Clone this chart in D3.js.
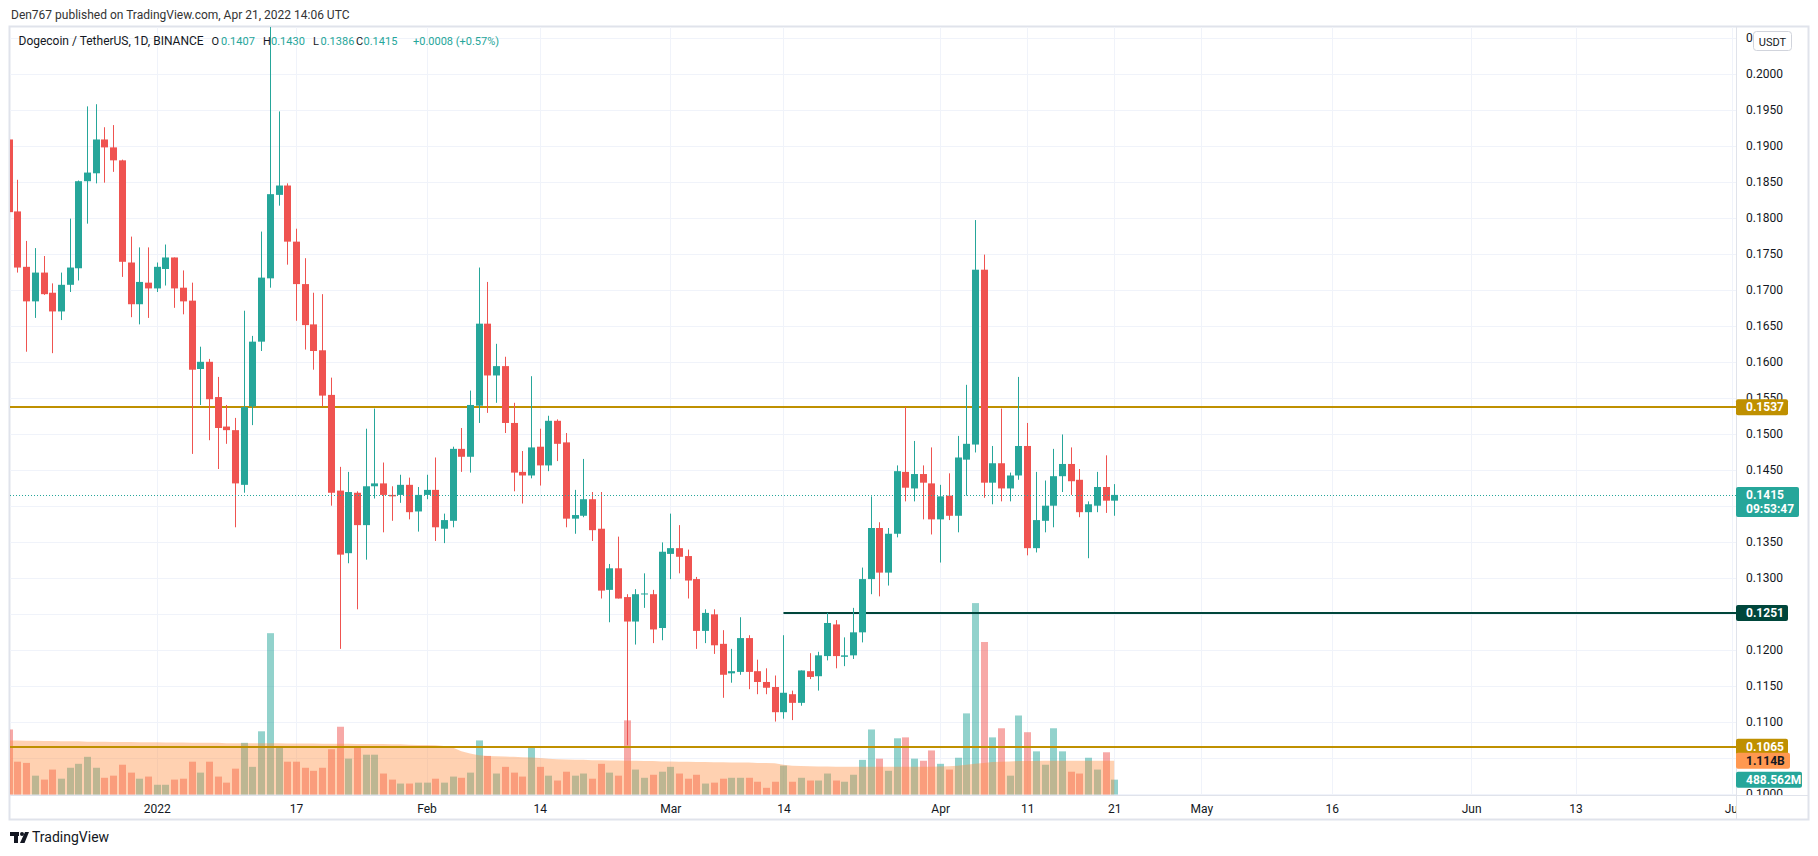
<!DOCTYPE html>
<html><head><meta charset="utf-8">
<script src="https://cdn.jsdelivr.net/npm/d3@7"></script>
<style>
html,body{margin:0;padding:0;background:#fff;}
svg{display:block;font-family:Roboto,"Liberation Sans",Arial,sans-serif;}
</style></head><body>
<svg id="chart" width="1818" height="856"></svg>
<script>
// ---------------- DATA ----------------
const dates = [
"2021-12-15","2021-12-16","2021-12-17","2021-12-18","2021-12-19","2021-12-20","2021-12-21","2021-12-22","2021-12-23","2021-12-24","2021-12-25","2021-12-26","2021-12-27","2021-12-28","2021-12-29","2021-12-30","2021-12-31",
"2022-01-01","2022-01-02","2022-01-03","2022-01-04","2022-01-05","2022-01-06","2022-01-07","2022-01-08","2022-01-09","2022-01-10","2022-01-11","2022-01-12","2022-01-13","2022-01-14","2022-01-15","2022-01-16","2022-01-17","2022-01-18","2022-01-19","2022-01-20","2022-01-21","2022-01-22","2022-01-23","2022-01-24","2022-01-25","2022-01-26","2022-01-27","2022-01-28","2022-01-29","2022-01-30","2022-01-31",
"2022-02-01","2022-02-02","2022-02-03","2022-02-04","2022-02-05","2022-02-06","2022-02-07","2022-02-08","2022-02-09","2022-02-10","2022-02-11","2022-02-12","2022-02-13","2022-02-14","2022-02-15","2022-02-16","2022-02-17","2022-02-18","2022-02-19","2022-02-20","2022-02-21","2022-02-22","2022-02-23","2022-02-24","2022-02-25","2022-02-26","2022-02-27","2022-02-28",
"2022-03-01","2022-03-02","2022-03-03","2022-03-04","2022-03-05","2022-03-06","2022-03-07","2022-03-08","2022-03-09","2022-03-10","2022-03-11","2022-03-12","2022-03-13","2022-03-14","2022-03-15","2022-03-16","2022-03-17","2022-03-18","2022-03-19","2022-03-20","2022-03-21","2022-03-22","2022-03-23","2022-03-24","2022-03-25","2022-03-26","2022-03-27","2022-03-28","2022-03-29","2022-03-30","2022-03-31",
"2022-04-01","2022-04-02","2022-04-03","2022-04-04","2022-04-05","2022-04-06","2022-04-07","2022-04-08","2022-04-09","2022-04-10","2022-04-11","2022-04-12","2022-04-13","2022-04-14","2022-04-15","2022-04-16","2022-04-17","2022-04-18","2022-04-19","2022-04-20","2022-04-21"];

const open = [
0.1909,0.1809,0.1732,0.1684,0.1724,0.1696,0.1670,0.1707,0.1730,0.1851,0.1862,0.1909,0.1898,0.1880,0.1738,0.1680,0.1710,
0.1702,0.1729,0.1745,0.1703,0.1685,0.1590,0.1600,0.1551,0.1510,0.1505,0.1429,0.1538,0.1628,0.1716,0.1832,0.1845,0.1767,0.1708,0.1652,0.1616,0.1554,0.1421,0.1334,0.1418,0.1373,0.1427,0.1431,0.1415,0.1415,0.1429,0.1392,
0.1415,0.1422,0.1368,0.1379,0.1479,0.1468,0.1539,0.1653,0.1581,0.1594,0.1515,0.1447,0.1442,0.1482,0.1456,0.1518,0.1488,0.1382,0.1386,0.1409,0.1368,0.1283,0.1313,0.1273,0.1239,0.1277,0.1277,0.1230,
0.1333,0.1341,0.1330,0.1298,0.1226,0.1249,0.1208,0.1167,0.1169,0.1216,0.1170,0.1155,0.1148,0.1113,0.1138,0.1126,0.1170,0.1163,0.1191,0.1235,0.1190,0.1192,0.1224,0.1298,0.1369,0.1307,0.1361,0.1447,0.1424,0.1444,0.1431,
0.1381,0.1414,0.1386,0.1464,0.1485,0.1728,0.1432,0.1459,0.1424,0.1442,0.1483,0.1341,0.1379,0.1400,0.1441,0.1458,0.1436,0.1391,0.1400,0.1426,0.1407];

const high = [
0.1912,0.1853,0.1768,0.1758,0.1747,0.1709,0.1724,0.1799,0.1852,0.1955,0.1958,0.1926,0.1929,0.1881,0.1774,0.1759,0.1759,
0.1738,0.1763,0.1745,0.1727,0.1710,0.1621,0.1604,0.1579,0.1540,0.1522,0.1671,0.1636,0.1781,0.2288,0.1948,0.1848,0.1785,0.1744,0.1696,0.1694,0.1578,0.1454,0.1447,0.1420,0.1507,0.1535,0.1460,0.1427,0.1443,0.1439,0.1426,
0.1443,0.1467,0.1389,0.1482,0.1508,0.1560,0.1731,0.1711,0.1625,0.1607,0.1543,0.1476,0.1580,0.1507,0.1525,0.1520,0.1501,0.1422,0.1465,0.1419,0.1419,0.1319,0.1357,0.1277,0.1284,0.1306,0.1283,0.1349,
0.1389,0.1373,0.1339,0.1301,0.1256,0.1256,0.1227,0.1201,0.1245,0.1220,0.1186,0.1174,0.1164,0.1220,0.1143,0.1171,0.1195,0.1197,0.1251,0.1241,0.1217,0.1258,0.1314,0.1413,0.1377,0.1369,0.1456,0.1537,0.1490,0.1456,0.1481,
0.1429,0.1445,0.1497,0.1568,0.1797,0.1749,0.1483,0.1535,0.1446,0.1579,0.1515,0.1447,0.1435,0.1479,0.1499,0.1481,0.1451,0.1406,0.1447,0.1470,0.1430];

const low = [
0.1805,0.1724,0.1614,0.1661,0.1693,0.1612,0.1658,0.1697,0.1713,0.1792,0.1848,0.1849,0.1864,0.1718,0.1662,0.1652,0.1661,
0.1697,0.1706,0.1675,0.1666,0.1472,0.1540,0.1491,0.1451,0.1486,0.1370,0.1418,0.1512,0.1615,0.1703,0.1817,0.1735,0.1657,0.1617,0.1589,0.1538,0.1400,0.1201,0.1320,0.1256,0.1325,0.1410,0.1363,0.1379,0.1404,0.1381,0.1364,
0.1409,0.1351,0.1348,0.1370,0.1447,0.1446,0.1515,0.1529,0.1543,0.1501,0.1420,0.1403,0.1438,0.1428,0.1448,0.1462,0.1370,0.1361,0.1384,0.1351,0.1271,0.1238,0.1271,0.1067,0.1207,0.1258,0.1209,0.1213,
0.1298,0.1306,0.1271,0.1201,0.1209,0.1194,0.1133,0.1154,0.1165,0.1145,0.1138,0.1138,0.1100,0.1104,0.1102,0.1122,0.1159,0.1143,0.1185,0.1174,0.1177,0.1187,0.1210,0.1277,0.1274,0.1289,0.1356,0.1406,0.1406,0.1381,0.1360,
0.1321,0.1380,0.1363,0.1414,0.1474,0.1411,0.1402,0.1406,0.1406,0.1436,0.1331,0.1335,0.1363,0.1370,0.1419,0.1415,0.1384,0.1327,0.1391,0.1390,0.1386];

const close = [
0.1808,0.1731,0.1684,0.1724,0.1694,0.1670,0.1707,0.1731,0.1851,0.1863,0.1909,0.1898,0.1880,0.1739,0.1680,0.1711,0.1702,
0.1732,0.1745,0.1702,0.1684,0.1589,0.1600,0.1548,0.1508,0.1505,0.1431,0.1537,0.1628,0.1717,0.1833,0.1845,0.1767,0.1708,0.1651,0.1615,0.1553,0.1418,0.1332,0.1419,0.1373,0.1427,0.1431,0.1415,0.1413,0.1429,0.1391,0.1415,
0.1422,0.1370,0.1380,0.1479,0.1468,0.1540,0.1653,0.1581,0.1594,0.1515,0.1446,0.1442,0.1481,0.1456,0.1518,0.1486,0.1382,0.1387,0.1409,0.1366,0.1282,0.1313,0.1271,0.1239,0.1277,0.1278,0.1228,0.1336,
0.1341,0.1329,0.1296,0.1226,0.1251,0.1206,0.1165,0.1170,0.1216,0.1169,0.1155,0.1147,0.1113,0.1140,0.1126,0.1171,0.1162,0.1192,0.1237,0.1191,0.1192,0.1224,0.1298,0.1369,0.1307,0.1361,0.1448,0.1425,0.1444,0.1432,0.1381,
0.1413,0.1386,0.1467,0.1486,0.1728,0.1432,0.1459,0.1424,0.1442,0.1483,0.1341,0.1380,0.1400,0.1441,0.1458,0.1434,0.1391,0.1402,0.1426,0.1407,0.1415];

// volume in billions of DOGE
const volume = [
2.14,1.08,1.04,0.62,0.49,0.82,0.52,0.88,1.01,1.24,0.88,0.55,0.62,0.98,0.72,0.52,0.59,
0.32,0.32,0.49,0.52,1.08,0.72,1.08,0.59,0.39,0.85,1.70,0.91,2.08,5.31,1.57,1.08,1.08,0.88,0.78,0.88,1.49,2.23,1.18,1.57,1.31,1.31,0.69,0.49,0.36,0.36,0.39,
0.39,0.52,0.39,0.59,0.55,0.72,1.78,1.27,0.69,0.91,0.72,0.59,1.57,0.91,0.62,0.46,0.75,0.62,0.69,0.52,1.01,0.72,0.62,2.44,0.82,0.55,0.65,0.75,
0.91,0.69,0.52,0.65,0.36,0.39,0.52,0.55,0.55,0.55,0.42,0.22,0.42,0.95,0.42,0.55,0.46,0.46,0.69,0.46,0.42,0.65,1.14,2.14,1.18,0.78,1.85,1.88,1.18,1.11,1.45,
1.01,0.82,1.21,2.67,6.30,5.02,1.88,2.18,0.62,2.60,2.05,1.42,0.98,2.18,1.42,0.75,0.69,1.21,0.82,1.39,0.488562];

// volume moving-average band (billions)
const volumeMA = [
1.78,1.78,1.77,1.77,1.76,1.76,1.75,1.75,1.75,1.74,1.74,1.74,1.73,1.73,1.73,1.72,1.72,
1.72,1.71,1.71,1.71,1.70,1.70,1.70,1.70,1.69,1.69,1.69,1.69,1.69,1.69,1.69,1.68,1.68,1.68,1.68,1.67,1.67,1.67,1.67,1.66,1.66,1.66,1.66,1.65,1.65,1.64,1.63,
1.63,1.62,1.60,1.55,1.42,1.35,1.29,1.27,1.26,1.25,1.24,1.23,1.22,1.20,1.18,1.16,1.15,1.14,1.14,1.13,1.13,1.12,1.12,1.11,1.11,1.10,1.10,1.09,
1.09,1.08,1.08,1.07,1.07,1.06,1.06,1.05,1.05,1.05,1.04,1.04,1.03,0.98,0.95,0.94,0.93,0.92,0.92,0.91,0.91,0.91,0.91,0.91,0.91,0.91,0.91,0.91,0.91,0.91,0.91,
0.92,0.93,0.95,0.98,1.01,1.04,1.07,1.08,1.09,1.10,1.10,1.10,1.11,1.11,1.11,1.11,1.11,1.11,1.11,1.11,1.114];

const priceTicks = [0.1000,0.1050,0.1100,0.1150,0.1200,0.1250,0.1300,0.1350,0.1400,0.1450,0.1500,0.1550,0.1600,0.1650,0.1700,0.1750,0.1800,0.1850,0.1900,0.1950,0.2000,0.2050];
// tick labels hidden behind the price tags in the picture
const hiddenTickLabels = [0.1050,0.1250,0.1400];
const xTickDates = ["2022-01-01","2022-01-17","2022-02-01","2022-02-14","2022-03-01","2022-03-14","2022-04-01","2022-04-11","2022-04-21","2022-05-01","2022-05-16","2022-06-01","2022-06-13","2022-07-01"];
const xTickLabels = ["2022","17","Feb","14","Mar","14","Apr","11","21","May","16","Jun","13","Jul"];

const levelValues = [0.1537, 0.1251, 0.1065];
const levelStart  = [null, "2022-03-14", null];

const title = "Dogecoin / TetherUS, 1D, BINANCE";
const publishedText = "Den767 published on TradingView.com, Apr 21, 2022 14:06 UTC";
const countdown = "09:53:47";
const volMALabel = "1.114B";
const volLabel = "488.562M";

// ---------------- DRAWING ----------------
const svg = d3.select("#chart");
const L = 10, R = 1736, T = 27, B = 795, FR = 1808, FB = 819;
const parse = d3.utcParse("%Y-%m-%d");
const UP = "#26a69a", DN = "#ef5350", GOLD = "#bf9000", DKGREEN = "#00463b", TXT = "#131722";

const x = d3.scaleUtc().domain([parse("2022-01-01"), parse("2022-07-01")]).range([156.7, 1732.3]);
const y = d3.scaleLinear().domain([0.1, 0.2]).range([793.5, 74]);
const yv = d3.scaleLinear().domain([0, 1]).range([794.5, 764.12]);

const candles = dates.map((d, i) => ({date: parse(d), o: open[i], h: high[i], l: low[i], c: close[i], v: volume[i], ma: volumeMA[i]}));

const defs = svg.append("defs");
defs.append("clipPath").attr("id", "pane").append("rect").attr("x", L).attr("y", T).attr("width", R - L).attr("height", B - T);
defs.append("clipPath").attr("id", "xax").append("rect").attr("x", L).attr("y", B).attr("width", R - L).attr("height", FB - B);
defs.append("clipPath").attr("id", "yax").append("rect").attr("x", R).attr("y", T).attr("width", FR - R).attr("height", B - T);

// published line
svg.append("text").attr("x", 11).attr("y", 18.5).attr("font-size", 12).attr("fill", "#333").text(publishedText);

// frame
svg.append("rect").attr("x", L - 0.5).attr("y", T - 0.5).attr("width", FR - L + 1).attr("height", FB - T + 1)
  .attr("fill", "none").attr("stroke", "#e0e3eb").attr("stroke-width", 2);

const pane = svg.append("g").attr("clip-path", "url(#pane)");

// grid
pane.append("g").selectAll("line").data(priceTicks).join("line")
  .attr("x1", L).attr("x2", R).attr("y1", d => Math.round(y(d)) + 0.5).attr("y2", d => Math.round(y(d)) + 0.5)
  .attr("stroke", "#f0f3fa").attr("stroke-width", 1);
pane.append("g").selectAll("line").data(xTickDates).join("line")
  .attr("y1", T).attr("y2", B).attr("x1", d => Math.round(x(parse(d))) + 0.5).attr("x2", d => Math.round(x(parse(d))) + 0.5)
  .attr("stroke", "#f0f3fa").attr("stroke-width", 1);

// volume bars
const bw = 7;
pane.append("g").selectAll("rect").data(candles).join("rect")
  .attr("x", d => Math.round(x(d.date)) - 3).attr("width", bw)
  .attr("y", d => yv(d.v)).attr("height", d => yv(0) - yv(d.v))
  .attr("fill", d => d.c >= d.o ? "rgba(38,166,154,0.5)" : "rgba(239,83,80,0.5)");

// volume MA area
pane.append("path").datum(candles)
  .attr("d", d3.area().x(d => x(d.date)).y0(yv(0)).y1(d => yv(d.ma)))
  .attr("fill", "rgba(255,140,60,0.4)");

// level lines
levelValues.forEach((v, i) => {
  const x1 = levelStart[i] ? x(parse(levelStart[i])) : L;
  pane.append("line").attr("x1", x1).attr("x2", R).attr("y1", Math.round(y(v))).attr("y2", Math.round(y(v)))
    .attr("stroke", i === 1 ? DKGREEN : GOLD).attr("stroke-width", 2);
});

// candles
const cg = pane.append("g");
cg.selectAll("line").data(candles).join("line")
  .attr("x1", d => Math.round(x(d.date)) + 0.5).attr("x2", d => Math.round(x(d.date)) + 0.5)
  .attr("y1", d => y(d.h)).attr("y2", d => y(d.l))
  .attr("stroke", d => d.c >= d.o ? UP : DN).attr("stroke-width", 1);
cg.selectAll("rect").data(candles).join("rect")
  .attr("x", d => Math.round(x(d.date)) - 3).attr("width", bw)
  .attr("y", d => y(Math.max(d.o, d.c)))
  .attr("height", d => Math.max(1, Math.abs(y(d.o) - y(d.c))))
  .attr("fill", d => d.c >= d.o ? UP : DN);

// current price dotted line
const last = candles[candles.length - 1], prev = candles[candles.length - 2];
pane.append("line").attr("x1", L).attr("x2", R).attr("y1", Math.round(y(last.c)) + 0.5).attr("y2", Math.round(y(last.c)) + 0.5)
  .attr("stroke", UP).attr("stroke-width", 1).attr("stroke-dasharray", "1,2");

// header legend
const fmt = d3.format(".4f");
const chg = last.c - prev.c;
const hdr = svg.append("g").attr("font-size", 11);
hdr.append("text").attr("x", 18.5).attr("y", 45).attr("font-size", 12).attr("fill", TXT).text(title);
const ohlcLab = ["O", "H", "L", "C"], ohlcVal = [last.o, last.h, last.l, last.c];
const labX = [211.5, 263, 313, 356], valX = [221, 271, 320.5, 363.5];
ohlcLab.forEach((lab, i) => {
  hdr.append("text").attr("x", labX[i]).attr("y", 45).attr("fill", TXT).text(lab);
  hdr.append("text").attr("x", valX[i]).attr("y", 45).attr("fill", UP).text(fmt(ohlcVal[i]));
});
hdr.append("text").attr("x", 413).attr("y", 45).attr("fill", UP)
  .text((chg >= 0 ? "+" : "") + fmt(chg) + " (" + (chg >= 0 ? "+" : "") + d3.format(".2f")(chg / prev.c * 100) + "%)");

// separators
svg.append("line").attr("x1", R + 0.5).attr("x2", R + 0.5).attr("y1", T).attr("y2", FB).attr("stroke", "#e0e3eb");
svg.append("line").attr("x1", L).attr("x2", FR).attr("y1", B + 0.5).attr("y2", B + 0.5).attr("stroke", "#e0e3eb");

// price axis
const yAxisG = svg.append("g").attr("clip-path", "url(#yax)").append("g").attr("transform", `translate(${R},0)`)
  .call(d3.axisRight(y).tickValues(priceTicks.filter(v => !hiddenTickLabels.includes(v))).tickFormat(fmt).tickSize(0).tickPadding(10));
yAxisG.select(".domain").remove();
yAxisG.selectAll("text").attr("font-size", 12).attr("fill", TXT).attr("font-family", "Roboto, sans-serif");

// x axis
const xAxisG = svg.append("g").attr("clip-path", "url(#xax)").append("g").attr("transform", `translate(0,${B})`)
  .call(d3.axisBottom(x).tickValues(xTickDates.map(parse)).tickFormat((d, i) => xTickLabels[i]).tickSize(0).tickPadding(9));
xAxisG.select(".domain").remove();
xAxisG.selectAll("text").attr("font-size", 12).attr("fill", TXT).attr("font-family", "Roboto, sans-serif");

// axis price labels
function axisLabel(yc, w, h, bg, fg, lines) {
  const g = svg.append("g");
  g.append("rect").attr("x", R).attr("y", yc - 8).attr("width", w).attr("height", h).attr("rx", 2).attr("fill", bg);
  lines.forEach((t, i) => g.append("text").attr("x", R + 10).attr("y", yc + 4.2 + i * 14)
    .attr("font-size", 12).attr("font-weight", "bold").attr("fill", fg).text(t));
}
axisLabel(y(levelValues[0]), 52, 16, GOLD, "#fff", [fmt(levelValues[0])]);
axisLabel(y(levelValues[1]), 52, 16, DKGREEN, "#fff", [fmt(levelValues[1])]);
axisLabel(y(last.c), 63, 30, UP, "#fff", [fmt(last.c), countdown]);
axisLabel(y(levelValues[2]), 52, 16, GOLD, "#fff", [fmt(levelValues[2])]);
axisLabel(yv(last.ma), 54, 16, "#ff9850", TXT, [volMALabel]);
axisLabel(yv(last.v), 66, 16, UP, "#fff", [volLabel]);

// USDT box (covers most of the top 0.2050 label, as in the picture)
svg.append("rect").attr("x", 1753.5).attr("y", 31.5).attr("width", 38).attr("height", 19).attr("rx", 3)
  .attr("fill", "#fff").attr("stroke", "#d1d4dc");
svg.append("text").attr("x", 1772.5).attr("y", 45.5).attr("text-anchor", "middle").attr("font-size", 11).attr("fill", TXT).text("USDT");

// TradingView logo
const logo = svg.append("g").attr("fill", TXT);
logo.append("rect").attr("x", 10).attr("y", 832).attr("width", 9).attr("height", 4);
logo.append("rect").attr("x", 14).attr("y", 832).attr("width", 4).attr("height", 11);
logo.append("circle").attr("cx", 22).attr("cy", 834).attr("r", 2);
logo.append("path").attr("d", "M20,843 L24.5,843 L29,832 L25,832 Z");
svg.append("text").attr("x", 32).attr("y", 842).attr("font-size", 14).attr("fill", TXT).text("TradingView");
</script>
</body></html>
